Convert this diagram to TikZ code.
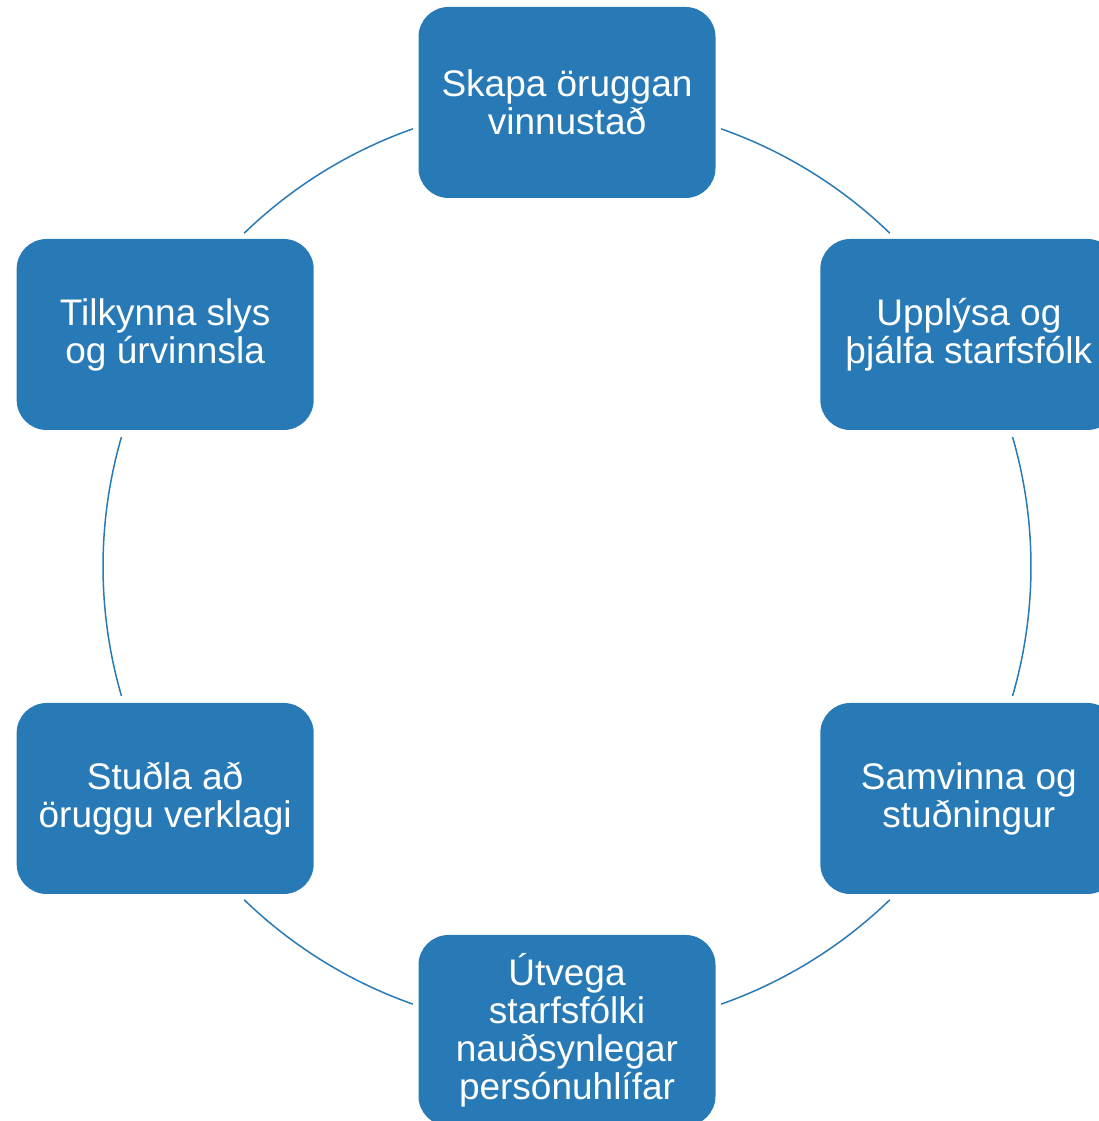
\documentclass[tikz,border=0pt]{standalone}
\usepackage{fontspec}
\setmainfont{Liberation Sans}
\definecolor{boxblue}{RGB}{40,122,182}
\begin{document}
\begin{tikzpicture}[x=1pt,y=1pt,
  stepbox/.style={draw=none, fill=boxblue, rounded corners=30pt, minimum width=297pt, minimum height=191pt, inner sep=0pt, text=white, align=center, font=\fontsize{37}{38}\selectfont},
  arcline/.style={draw=boxblue, line width=1.5pt}]
\useasboundingbox (0,0) rectangle (1099,1121);
\coordinate (c) at (567,554.5);
\node[stepbox] (n1) at ([shift={(90:464)}]c) {Skapa öruggan\\vinnustað};
\node[stepbox] (n2) at ([shift={(30:464)}]c) {Upplýsa og\\þjálfa starfsfólk};
\node[stepbox] (n3) at ([shift={(-30:464)}]c) {Samvinna og\\stuðningur};
\node[stepbox] (n4) at ([shift={(-90:464)}]c) {Útvega\\starfsfólki\\nauðsynlegar\\persónuhlífar};
\node[stepbox] (n5) at ([shift={(210:464)}]c) {Stuðla að\\öruggu verklagi};
\node[stepbox] (n6) at ([shift={(150:464)}]c) {Tilkynna slys\\og úrvinnsla};
\draw[arcline] ([shift={(70.6:464)}]c) arc[start angle=70.6, end angle=45.9, radius=464];
\draw[arcline] ([shift={(16.2:464)}]c) arc[start angle=16.2, end angle=-16.2, radius=464];
\draw[arcline] ([shift={(-45.9:464)}]c) arc[start angle=-45.9, end angle=-70.6, radius=464];
\draw[arcline] ([shift={(-109.4:464)}]c) arc[start angle=-109.4, end angle=-134.1, radius=464];
\draw[arcline] ([shift={(-163.8:464)}]c) arc[start angle=-163.8, end angle=-196.2, radius=464];
\draw[arcline] ([shift={(134.1:464)}]c) arc[start angle=134.1, end angle=109.4, radius=464];
\end{tikzpicture}
\end{document}
